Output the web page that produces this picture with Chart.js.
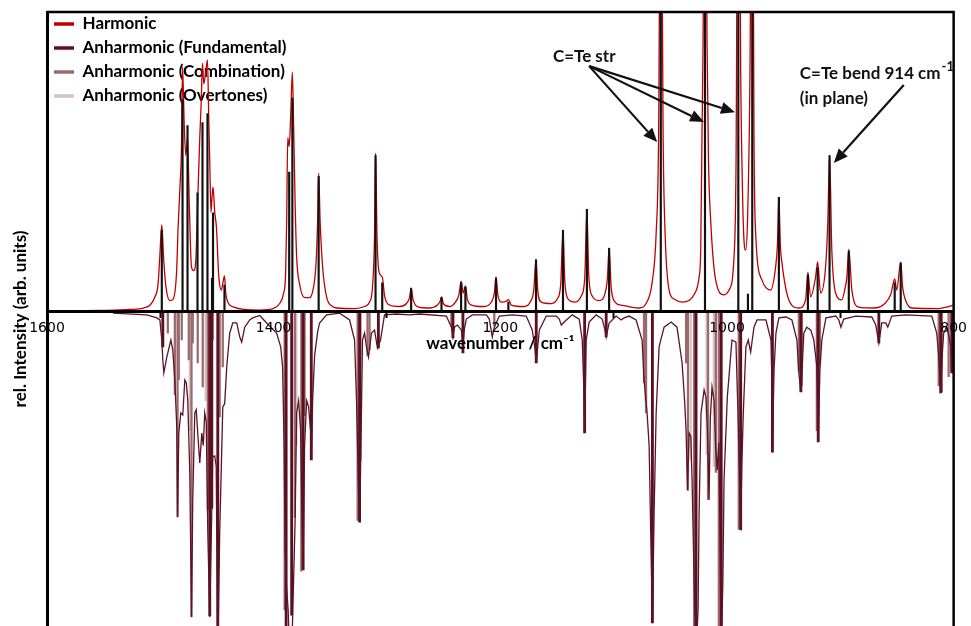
<!DOCTYPE html>
<html><head><meta charset="utf-8">
<script src="https://cdn.jsdelivr.net/npm/chart.js@4.4.1/dist/chart.umd.min.js"></script>
<style>html,body{margin:0;padding:0;background:#fff;overflow:hidden}canvas{display:block}</style>
</head><body>
<canvas id="c" width="971" height="626"></canvas>
<script>
// ---- data (wavenumber / cm-1, relative intensity) ----
const seriesLabels = ['Harmonic','Anharmonic (Fundamental)','Anharmonic (Combination)','Anharmonic (Overtones)'];
const seriesColors = ['#c00000','#5c0f20','#9b6a6f','#d5c2c5'];
const xTickValues = [1600,1400,1200,1000,800];
const yMin = -105.35, yMax = 100;

const harmonicCurve = [[1600,0],[1553,0.2],[1527,0.5],[1515,1.0],[1509,2.0],[1505,4.5],[1502,9],[1500.5,18],[1498.7,28.8],[1497,17],[1495,8],[1491.6,3.5],[1489,3.8],[1485.7,12.7],[1484.3,28],[1482.6,42],[1481.3,55],[1480.4,81.6],[1478.9,62],[1477.5,52],[1476,58],[1474.4,35],[1472.5,14.7],[1470.5,13.5],[1468.7,17],[1467,37],[1465.2,58],[1463.9,70],[1462.8,82.9],[1461.7,76],[1460.2,79],[1458.4,84],[1457.3,65],[1456.4,50],[1455.3,33],[1454.4,38],[1453.5,41.5],[1452,33],[1450.5,28],[1448.5,12],[1446.1,7],[1444.5,10],[1443.4,11.7],[1442.3,6],[1440.5,3],[1434.4,1.2],[1425.5,0.5],[1412.3,0.3],[1400.9,0.8],[1394.7,2.5],[1391.2,6],[1389.5,12],[1388.5,30],[1387.6,58],[1386.3,55],[1385,65],[1383.5,79.9],[1382.3,60],[1381,35],[1379.7,18],[1377.1,9],[1372.7,4.5],[1368.3,4.5],[1364.8,8],[1362.6,16],[1361.2,30],[1360.3,46.1],[1359,30],[1356.8,14.7],[1353.3,4.7],[1348,1.5],[1344.5,1.0],[1328.6,0.8],[1319.8,1.5],[1315.4,3],[1312.8,8],[1311,25],[1310.1,52.8],[1308.8,25],[1307,13],[1304.2,11.4],[1302.1,5],[1297.7,2],[1288.9,1.5],[1282.8,2.5],[1280.1,4.5],[1278.7,7.7],[1277.1,4],[1273.1,1.5],[1262.5,1],[1255.5,2],[1252.8,3.5],[1251.9,4.7],[1250.2,2.5],[1244.9,1.5],[1239.6,3],[1236.5,5.5],[1234.6,10],[1232.6,6],[1230.8,8.4],[1229.1,4],[1225.5,2],[1214.1,1.5],[1207.9,3],[1205.3,6],[1203.8,11.4],[1202.2,5.5],[1199.1,3],[1194.7,3.3],[1192.9,3.8],[1190.3,2],[1178.8,1.5],[1173.6,3],[1170.5,7],[1168.5,17.4],[1167,7],[1163.9,3],[1155,2.5],[1149.8,4],[1146.7,9],[1144.7,27.1],[1143.1,10],[1140.1,4],[1133.9,3],[1128.6,5],[1125.5,11],[1123.6,34.1],[1122,12],[1118.9,5],[1112.8,3.5],[1107.5,6],[1105.5,11],[1104,21.1],[1102.2,8],[1098.7,3],[1093.4,2],[1089.2,1.7],[1084.6,1.3],[1077.5,1.0],[1071.4,2.5],[1066.1,9.4],[1062.5,26],[1060.3,60],[1058.4,180],[1056.4,60],[1054.6,26],[1051.1,7],[1046.7,4],[1039.6,3],[1033.5,3.5],[1029,5.5],[1024.6,11.4],[1023.2,20],[1022,60],[1021.1,90],[1019.4,200],[1017.6,90],[1016.3,50],[1014.4,30.4],[1010,10.4],[1002.6,5.4],[998.2,7],[993.8,18.1],[992,50],[990,200],[987.9,80],[986.3,40],[985,23.7],[983.5,20.4],[981.9,30],[979.7,80],[977.7,200],[976.2,60],[974.7,26.1],[969.2,10.4],[961.5,7],[957.1,14.7],[955.5,22],[954.2,38.1],[952.9,22],[951.5,16.1],[945.4,3.7],[936.6,1.0],[930.6,3.7],[928.6,13.0],[926.2,4.7],[921.8,11.4],[920,16.4],[917.4,6],[913,14.7],[911,30],[909.5,52.1],[907.5,20.4],[904.2,6],[898.7,3.7],[895.6,8],[894.2,11.4],[892.5,20.7],[889.8,7],[883.7,1.3],[870.5,1],[860.2,2.7],[855.5,5.5],[852,10.7],[850.2,7],[846.7,16.4],[845,8],[842.5,3.7],[837,1.0],[813.2,0.8],[804.4,1.5],[800,2]];

const harmonicSticks = [[1498.7,27],[1480.4,70.6],[1476,62],[1467.2,39.5],[1462.8,63],[1458.4,66],[1454.4,11],[1453.5,32.8],[1443.4,8.7],[1386.3,46.5],[1383.5,71.2],[1360.3,45],[1310.1,52],[1304.2,9.4],[1278.7,7.5],[1251.9,4.5],[1234.6,9.5],[1230.8,8],[1203.8,11],[1192.9,3],[1168.5,17],[1144.7,27],[1123.6,34],[1104,21],[1058.4,200],[1019.4,200],[990,200],[981.5,5.7],[977.7,200],[954.2,38],[928.6,12],[920,14.4],[909.5,52],[892.5,20],[852,9.4],[846.7,16]];

const anharmonicCurve = [[1541.8,-0.7],[1511.9,-1.3],[1503.1,-2.3],[1500.4,-3.0],[1498.7,-9.7],[1497.8,-16.4],[1496.9,-20.7],[1494.3,-15.4],[1490.7,-9.7],[1489,-13.0],[1487.2,-23.1],[1485.5,-38.8],[1484.8,-68.9],[1483.7,-40.8],[1481.9,-34.1],[1480.2,-34.8],[1478.4,-23.1],[1477.1,-24],[1475.8,-29.8],[1474,-54.2],[1472.5,-102.3],[1471.4,-63.2],[1469.6,-34.1],[1468.3,-33],[1467,-40.8],[1465.2,-50.8],[1463.4,-40.8],[1462.1,-45],[1460.8,-34.1],[1459.5,-37],[1458.1,-74.2],[1456.4,-102.3],[1454.6,-66.5],[1453.8,-48.8],[1452,-48.5],[1450.7,-52],[1449.3,-115],[1447.6,-74.2],[1444.9,-32.1],[1443.2,-31],[1441.4,-18.7],[1438.8,-7.4],[1436.1,-4.0],[1432.6,-4.0],[1429.9,-8.7],[1428.2,-10.4],[1425.5,-5.4],[1421.1,-3.0],[1418.5,-2.3],[1412.3,-1.5],[1406.2,-4.0],[1397.4,-7.4],[1393.8,-12],[1392.1,-18.7],[1390.8,-45],[1389.9,-80],[1388.5,-93],[1387.2,-100],[1385.9,-115],[1384.1,-115],[1382.4,-90],[1381,-69],[1379.7,-34],[1378,-30],[1376.2,-40],[1374.9,-70],[1374,-86.6],[1372.7,-45],[1370.9,-30],[1369.2,-32],[1367.4,-40],[1366.8,-49.8],[1365.6,-30],[1363.9,-15],[1361.2,-7],[1359.5,-4.0],[1353.3,-1.3],[1341.8,-0.7],[1333,-3.0],[1328.6,-9.7],[1326.9,-29.8],[1325.1,-60],[1324.2,-70.6],[1323.4,-55],[1321.6,-9.7],[1319.8,-7.4],[1318.1,-12.0],[1316.3,-15.4],[1313.7,-7.4],[1311,-6.4],[1308.4,-12.4],[1305.7,-9.7],[1302.2,-1.3],[1291.6,-1.0],[1280.2,-1.3],[1271.4,-1.0],[1247.6,-1.7],[1243.2,-5.4],[1241.8,-8.7],[1240.5,-5.4],[1237.8,-4.7],[1234.3,-6.4],[1233,-11.5],[1231.7,-6],[1230,-2.7],[1224.7,-1.3],[1212.3,-1.3],[1209.7,-2.7],[1207.1,-8.7],[1205.3,-5.4],[1200.9,-1.7],[1189.4,-1.3],[1177.1,-1.7],[1171.8,-6.4],[1169.6,-12],[1168.3,-17.4],[1167,-12],[1165.6,-6.4],[1159.5,-1.7],[1150.6,-1.7],[1148,-2.7],[1146.2,-4.7],[1143.6,-3.7],[1136.6,-1.3],[1130.4,-2.7],[1127.7,-9.7],[1126.4,-25],[1125.6,-40.8],[1124.2,-9.7],[1121.6,-3.7],[1115.4,-1.3],[1110.1,-2.7],[1107.9,-6],[1106.6,-8.7],[1104,-4.0],[1097.8,-1.7],[1093.4,-3.0],[1090.8,-2.3],[1086.4,-1.7],[1080.2,-3.0],[1074.9,-9.7],[1073.2,-23],[1070.5,-34.1],[1068.7,-45],[1067,-80],[1065.8,-104.3],[1064.3,-67.5],[1062.5,-34.1],[1059.9,-12.0],[1055.5,-5.4],[1049.3,-3.7],[1044.1,-5.4],[1039.6,-17.4],[1037.4,-30],[1036.1,-39.8],[1034.9,-59.9],[1033.4,-40.8],[1031.9,-42],[1030.8,-56.5],[1029,-90],[1027.3,-115],[1025.5,-100],[1024.6,-67.5],[1022.9,-34.1],[1020.2,-26.4],[1018.5,-29],[1017.3,-39.8],[1015.8,-63.2],[1014.7,-36],[1013.2,-25.4],[1011.4,-30],[1010,-45.5],[1008.6,-53.2],[1007.2,-44.1],[1006.3,-70],[1005.1,-115],[1003.6,-90],[1002.6,-56.5],[999.7,-28.8],[995.6,-9.7],[992.1,-10.4],[990.3,-34.1],[989,-55],[987.9,-73.2],[986.8,-50],[985.6,-34.1],[983.3,-12.0],[981.2,-9.7],[979.1,-13.7],[976.2,-5.4],[973.5,-3.0],[965.6,-3.0],[961.2,-9.7],[960.3,-25],[959.9,-47.2],[958.5,-20],[956.8,-7.4],[954.2,-2.3],[948,-2.0],[942.7,-3.0],[938.3,-9.7],[936.6,-20.7],[934.8,-27.1],[933.5,-18],[932.2,-7.4],[929.6,-5.4],[926,-6.4],[923.4,-9.7],[920.7,-18.7],[919.5,-43.8],[918,-20],[916.3,-9.7],[912.7,-2.3],[903.9,-1.7],[901.3,-3.0],[899.5,-5.4],[896.9,-2.7],[886.3,-1.7],[872.2,-2.0],[868.7,-4.7],[866,-10.7],[863.4,-4.0],[859.9,-4.0],[858.1,-5.4],[854.6,-1.7],[842.3,-1.3],[819.3,-1.7],[814.9,-7.4],[813.2,-15],[811.4,-27.4],[810.1,-15],[808.8,-7.4],[806.2,-5.4],[804.4,-8],[802.6,-12.0],[801.7,-20.7],[800.8,-13],[800,-9.7]];

const fundamentalSticks = [[1497.8,-12],[1456.4,-102],[1454.6,-66],[1449.3,-115],[1389,-115],[1384.1,-101.7],[1374,-86.6],[1366.8,-49.8],[1324.2,-70.6],[1307.6,-12.4],[1241.8,-9],[1233,-14],[1168.3,-17.4],[1125.6,-40.8],[1106.6,-8.7],[1065.8,-104.3],[1027.3,-115],[1005.1,-115],[987.9,-73.2],[959.9,-47.2],[934.8,-27.1],[919.5,-43.8],[866,-10.7],[811.4,-27.4],[801.7,-20.7]];

const combinationSticks = [[1493.4,-7.4],[1487.2,-28],[1484.8,-68.9],[1483.7,-23],[1481.1,-9.7],[1474.9,-16.4],[1472.5,-102.3],[1471.4,-10.7],[1467,-17.4],[1462.6,-25.4],[1458.1,-66.5],[1453.8,-9.7],[1447.6,-35.4],[1444.9,-18.7],[1390.3,-100],[1381.3,-69],[1375.6,-87],[1372.7,-35],[1325.9,-70],[1323.4,-50],[1317.2,-15],[1315.4,-13],[1243.2,-5],[1205.3,-5],[1073.2,-24],[1071.4,-34.1],[1036.1,-17.4],[1034.4,-60],[1029,-115],[1016.7,-63],[1009.8,-54],[1007.2,-115],[989.6,-73],[987.9,-40],[936.6,-20],[934,-25],[920.7,-40],[918,-18],[813.2,-25],[810.5,-27],[804.4,-22]];

const overtoneSticks = [[1474,-40],[1460,-30],[1380,-45],[1072,-30],[1032,-50],[1018,-48],[1011.6,-52]];

// annotation texts and arrows, in data coordinates
const noteTexts = [
  {text:'C=Te str', wn:1126, val:85, align:'center'},
  {text:'C=Te bend 914 cm', sup:'-1', wn:935.7, val:79.3, align:'left'},
  {text:'(in plane)', wn:935.7, val:71.2, align:'left'}
];
const noteArrows = [
  {from:[1121.6,81.9], to:[1061.6,56.5]},
  {from:[1121.6,81.9], to:[1020.2,63.2]},
  {from:[1121.6,81.9], to:[992.9,66.5]},
  {from:[844,75.6], to:[905.7,49.5]}
];

const toXY = arr => arr.map(p => ({x:p[0], y:p[1]}));

const framePlugin = {
  id:'frame',
  afterDraw(chart){
    const {ctx, chartArea:a} = chart;
    ctx.save();
    ctx.strokeStyle = '#000';
    ctx.lineWidth = 2.5;
    ctx.beginPath();
    ctx.moveTo(a.left, a.top); ctx.lineTo(a.right, a.top); ctx.lineTo(a.right, a.bottom);
    ctx.stroke();
    ctx.restore();
  }
};

const notesPlugin = {
  id:'notes',
  afterDraw(chart){
    const {ctx, scales:{x, y}} = chart;
    ctx.save();
    ctx.strokeStyle = '#111'; ctx.fillStyle = '#111'; ctx.lineWidth = 2.2;
    noteArrows.forEach(a => {
      const x1 = x.getPixelForValue(a.from[0]), y1 = y.getPixelForValue(a.from[1]);
      const x2 = x.getPixelForValue(a.to[0]), y2 = y.getPixelForValue(a.to[1]);
      const ang = Math.atan2(y2 - y1, x2 - x1), L = 14, W = 6;
      const bx = x2 - L*Math.cos(ang), by = y2 - L*Math.sin(ang);
      ctx.beginPath(); ctx.moveTo(x1, y1); ctx.lineTo(bx, by); ctx.stroke();
      ctx.beginPath();
      ctx.moveTo(x2, y2);
      ctx.lineTo(bx + W*Math.sin(ang), by - W*Math.cos(ang));
      ctx.lineTo(bx - W*Math.sin(ang), by + W*Math.cos(ang));
      ctx.closePath(); ctx.fill();
    });
    ctx.textBaseline = 'middle';
    noteTexts.forEach(t => {
      const px = x.getPixelForValue(t.wn), py = y.getPixelForValue(t.val);
      ctx.font = 'bold 17px Lato';
      ctx.textAlign = t.align;
      ctx.fillText(t.text, px, py);
      if (t.sup) {
        const w = ctx.measureText(t.text).width;
        ctx.font = 'bold 13px Lato';
        ctx.textAlign = 'left';
        ctx.fillText(t.sup, px + w + 1, py - 7);
      }
    });
    ctx.restore();
  }
};

const legendIdx = [0, 3, 4, 5];

new Chart(document.getElementById('c'), {
  type:'line',
  data:{ datasets:[
    {label:seriesLabels[0], data:toXY(harmonicCurve), borderColor:seriesColors[0], backgroundColor:seriesColors[0], borderWidth:1.3, pointRadius:0, cubicInterpolationMode:'monotone', order:2},
    {type:'bar', label:'Harmonic sticks', data:toXY(harmonicSticks), backgroundColor:'#111', barThickness:1.5, grouped:false, order:1},
    {label:'Anharmonic spectrum', data:toXY(anharmonicCurve), borderColor:'#5a1426', backgroundColor:'#5a1426', borderWidth:1.3, pointRadius:0, tension:0, order:3},
    {type:'bar', label:seriesLabels[1], data:toXY(fundamentalSticks), backgroundColor:seriesColors[1], barThickness:2.2, grouped:false, order:4},
    {type:'bar', label:seriesLabels[2], data:toXY(combinationSticks), backgroundColor:seriesColors[2], barThickness:1.6, grouped:false, order:5},
    {type:'bar', label:seriesLabels[3], data:toXY(overtoneSticks), backgroundColor:seriesColors[3], barThickness:1.6, grouped:false, order:6}
  ]},
  options:{
    responsive:false, animation:false, devicePixelRatio:1, events:[],
    layout:{padding:{top:12, right:16, bottom:0, left:0}},
    scales:{
      x:{type:'linear', reverse:true, min:800, max:1600, offset:false, position:{y:0},
        afterBuildTicks:s => { s.ticks = xTickValues.map(v => ({value:v})); },
        afterFit:s => { s.height = 0; },
        ticks:{font:{family:'DejaVu Sans', size:14}, color:'#000', padding:4, maxRotation:0, autoSkip:false, callback:v => String(v), z:1},
        grid:{display:true, drawOnChartArea:false, drawTicks:true, tickLength:5, tickWidth:2, tickColor:'#000', z:1},
        border:{display:true, color:'#000', width:3, z:1},
        title:{display:true, text:'wavenumber / cm⁻¹', color:'#000', font:{family:'Lato', weight:'bold', size:17}, padding:{top:0, bottom:-43}}
      },
      y:{type:'linear', min:yMin, max:yMax, position:'left',
        afterFit:s => { s.width = 47; },
        ticks:{display:false}, grid:{display:false},
        border:{display:true, color:'#000', width:3, z:1},
        title:{display:true, text:'rel. Intensity (arb. units)', color:'#000', font:{family:'Lato', weight:'bold', size:17}, padding:{top:10, bottom:0}}
      }
    },
    plugins:{
      tooltip:{enabled:false},
      legend:{position:'chartArea', align:'start',
        title:{display:true, text:'', color:'#000', font:{size:8.5, lineHeight:1}, padding:0},
        labels:{boxWidth:20, boxHeight:3.5, padding:7, color:'#000', font:{family:'Lato', weight:'bold', size:17},
          generateLabels:chart => legendIdx.map((i, k) => ({text:chart.data.datasets[i].label, fillStyle:seriesColors[k], strokeStyle:seriesColors[k], fontColor:'#000', lineWidth:0, hidden:false, datasetIndex:i}))
        }
      }
    }
  },
  plugins:[framePlugin, notesPlugin]
});
</script>
</body></html>
